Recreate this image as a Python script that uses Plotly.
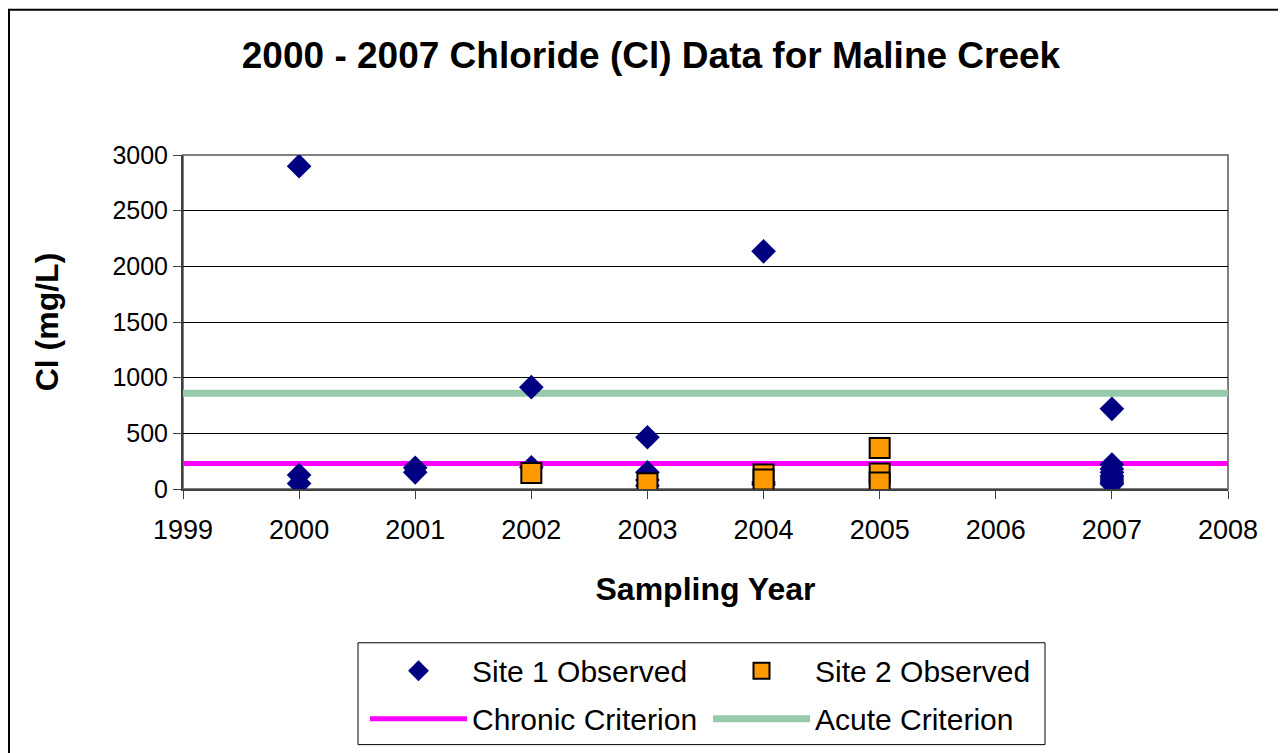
import plotly.graph_objects as go

# ---- data ----
site1_years = [2000, 2000, 2000,
               2001, 2001,
               2002, 2002,
               2003, 2003, 2003, 2003,
               2004, 2004, 2004,
               2007, 2007, 2007, 2007, 2007, 2007, 2007, 2007, 2007]
site1_values = [2900, 125, 50,
                190, 150,
                915, 195,
                465, 150, 80, 30,
                2135, 60, 40,
                720, 220, 180, 150, 120, 100, 80, 60, 45]

site2_years = [2002, 2003, 2004, 2004, 2005, 2005, 2005]
site2_values = [143, 52, 130, 85, 368, 140, 58]

criteria_years = [1999, 2008]
chronic_values = [230, 230]
acute_values = [860, 860]

title_text = "2000 - 2007 Chloride (Cl) Data for Maline Creek"
x_title = "Sampling Year"
y_title = "Cl (mg/L)"

# ---- layout geometry (pixels, in figure coordinates; page adds 8px body margin) ----
OFF = 8
W, H = 1286, 753
L, R, T, B = 183 - OFF, 1228 - OFF, 154.5 - OFF, 489 - OFF
pw, ph = R - L, B - T


def px(x):
    return (x - OFF - L) / pw


def py(y):
    return (B - (y - OFF)) / ph


FONT = "Liberation Sans, Arial, sans-serif"

fig = go.Figure()

fig.add_trace(go.Scatter(
    x=criteria_years, y=chronic_values, mode="lines", name="Chronic Criterion",
    line=dict(color="#FF00FF", width=5), legend="legend2", legendrank=1,
    hoverinfo="skip"))
fig.add_trace(go.Scatter(
    x=criteria_years, y=acute_values, mode="lines", name="Acute Criterion",
    line=dict(color="#96CAAA", width=7), legend="legend2", legendrank=2,
    hoverinfo="skip"))
fig.add_trace(go.Scatter(
    x=site1_years, y=site1_values, mode="markers", name="Site 1 Observed",
    marker=dict(symbol="diamond", size=19, color="#000080", line=dict(width=0)),
    legend="legend", legendrank=1))
fig.add_trace(go.Scatter(
    x=site2_years, y=site2_values, mode="markers", name="Site 2 Observed",
    marker=dict(symbol="square", size=20, color="#FF9900",
                line=dict(color="#000000", width=2)),
    legend="legend", legendrank=2))

shapes = [
    # plot-area frame (grey top/right)
    dict(type="rect", xref="paper", yref="paper", x0=0, x1=1, y0=0, y1=1,
         line=dict(color="#808080", width=2), layer="below"),
    # outer chart border
    dict(type="rect", xref="paper", yref="paper",
         x0=px(OFF + 1), x1=px(1283), y0=py(760), y1=py(OFF + 1),
         line=dict(color="#000000", width=2)),
    # legend box
    dict(type="rect", xref="paper", yref="paper",
         x0=px(358), x1=px(1045), y0=py(745), y1=py(643),
         line=dict(color="#000000", width=1), fillcolor="rgba(0,0,0,0)"),
]

legend_common = dict(orientation="h", xanchor="left", yanchor="top",
                     borderwidth=0, bgcolor="rgba(0,0,0,0)",
                     font=dict(family=FONT, size=30, color="black"),
                     itemwidth=97, entrywidth=231, entrywidthmode="pixels",
                     traceorder="normal")

fig.update_layout(
    width=W, height=H,
    margin=dict(l=L, r=W - R, t=T, b=H - B, autoexpand=False),
    paper_bgcolor="white", plot_bgcolor="white",
    font=dict(family=FONT, size=26, color="black"),
    title=dict(text="<b>" + title_text + "</b>", x=0.5, xref="container",
               xanchor="center", y=1 - (55 - OFF) / H, yref="container",
               yanchor="middle",
               font=dict(family=FONT, size=37, color="black")),
    xaxis=dict(range=[1999, 2008], dtick=1, tick0=1999, showgrid=False,
               zeroline=False, showline=True, linecolor="#404040", linewidth=2,
               ticks="outside", ticklen=8, tickcolor="#404040", tickwidth=1,
               tickfont=dict(size=27), ticklabelstandoff=8, fixedrange=True,
               title=dict(text="<b>" + x_title + "</b>", standoff=33,
                          font=dict(size=32))),
    yaxis=dict(range=[0, 3000], dtick=500, showgrid=True, gridcolor="#000000",
               gridwidth=1, zeroline=False, showline=True, linecolor="#404040",
               linewidth=2, ticks="outside", ticklen=8, tickcolor="#404040",
               tickwidth=1, tickfont=dict(size=25), fixedrange=True,
               title=dict(text="<b>" + y_title + "</b>", standoff=44,
                          font=dict(size=32))),
    showlegend=True,
    legend=dict(x=px(365), y=py(645), **legend_common),
    legend2=dict(x=px(365), y=py(693), **legend_common),
    shapes=shapes,
)

fig.write_html("out.html")
